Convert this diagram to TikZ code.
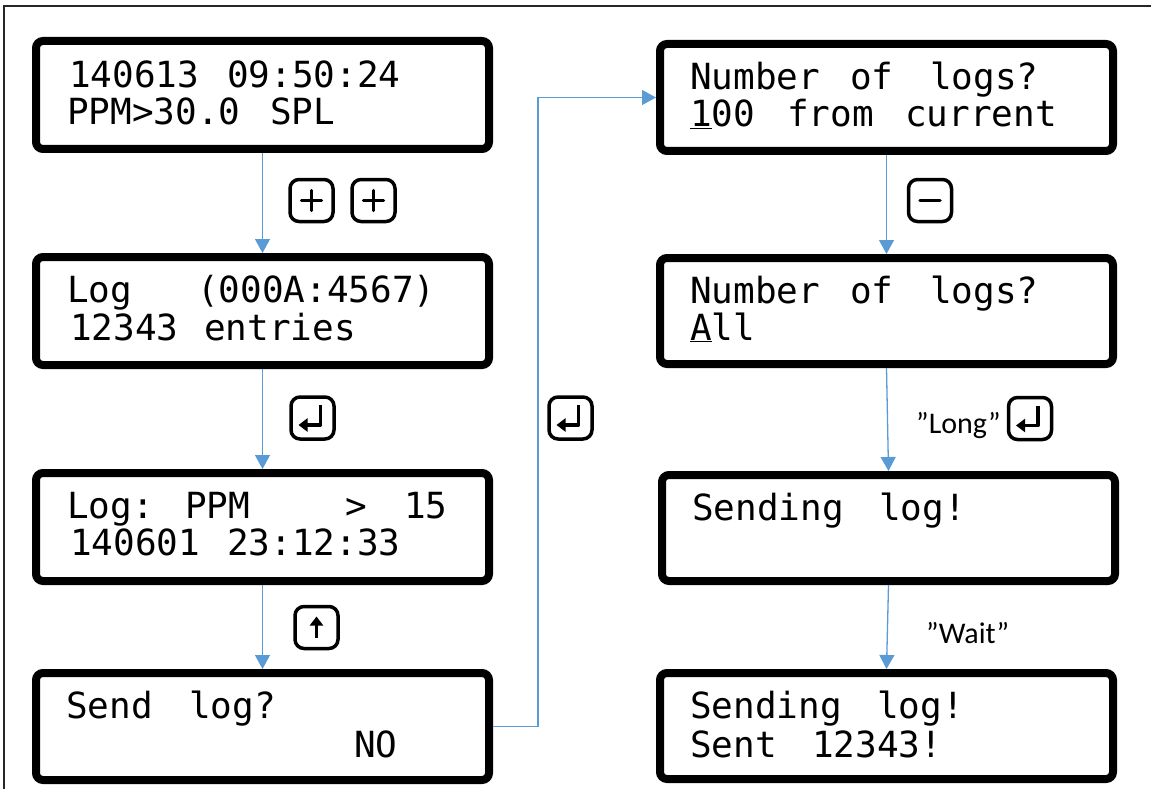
\documentclass[tikz,border=0pt]{standalone}
\usepackage{fontspec}
\setmonofont{DejaVu Sans Mono}
\newfontfamily\labelfont{Carlito}
\usetikzlibrary{arrows.meta}
\definecolor{conncol}{RGB}{91,155,213}
\begin{document}
\begin{tikzpicture}[x=1pt,y=-1pt,
  lcdbox/.style={draw=black, line width=8pt, rounded corners=7pt, fill=white, inner sep=0pt, minimum width=453pt},
  lcdtext/.style={anchor=base west, inner sep=0pt, font=\ttfamily\fontsize{36}{36}\selectfont},
  keybox/.style={draw=black, line width=3.5pt, rounded corners=9pt, minimum width=43pt, minimum height=42pt, inner sep=0pt},
  keysym/.style={line width=3.5pt, line cap=round},
  conn/.style={draw=conncol, line width=1.3pt, -{Triangle[width=15pt,length=14pt]}},
  lbl/.style={anchor=base west, inner sep=0pt, font=\labelfont\fontsize{30}{30}\selectfont},
  frame/.style={draw=black!85, line width=1.3pt}]
\useasboundingbox (0,0) rectangle (1151,789);
\draw[frame] (4,6) rectangle (1175,815);

% LCD boxes
\node[lcdbox, minimum height=108pt] (b1) at (262.5,95) {};
\node[lcdbox, minimum height=108pt] (b2) at (262.5,311) {};
\node[lcdbox, minimum height=108pt] (b3) at (262.5,527) {};
\node[lcdbox, minimum height=107pt] (b4) at (262.5,726.5) {};
\node[lcdbox, minimum height=107pt] (r1) at (886.5,97.5) {};
\node[lcdbox, minimum height=106pt] (r2) at (886.5,311) {};
\node[lcdbox, minimum height=106pt] (r3) at (888.5,528) {};
\node[lcdbox, minimum height=106pt] (r4) at (886.5,726) {};

% texts box 1
\node[lcdtext] (t1a) at (69,88) {140613};
\node[lcdtext] (t1b) at (227,88) {09:50:24};
\node[lcdtext] (t1c) at (67,125) {PPM>30.0};
\node[lcdtext] (t1d) at (270,125) {SPL};
% box 2
\node[lcdtext] (t2a) at (67,302) {Log};
\node[lcdtext] (t2b) at (197,302) {(000A:4567)};
\node[lcdtext] (t2c) at (70,340) {12343};
\node[lcdtext] (t2d) at (204,340) {entries};
% box 3
\node[lcdtext] (t3a) at (67,518) {Log:};
\node[lcdtext] (t3b) at (185,518) {PPM};
\node[lcdtext] (t3c) at (345,518) {>};
\node[lcdtext] (t3d) at (404,518) {15};
\node[lcdtext] (t3e) at (70,555) {140601};
\node[lcdtext] (t3f) at (227,555) {23:12:33};
% box 4
\node[lcdtext] (t4a) at (66,718) {Send};
\node[lcdtext] (t4b) at (189,718) {log?};
\node[lcdtext] (t4c) at (354,757) {NO};
% right 1
\node[lcdtext] (u1a) at (690,90) {Number};
\node[lcdtext] (u1b) at (850,90) {of};
\node[lcdtext] (u1c) at (930,90) {logs?};
\node[lcdtext] (u1d) at (690,127) {\underline{1}00};
\node[lcdtext] (u1e) at (787,127) {from};
\node[lcdtext] (u1f) at (905,127) {current};
% right 2
\node[lcdtext] (u2a) at (690,303) {Number};
\node[lcdtext] (u2b) at (850,303) {of};
\node[lcdtext] (u2c) at (930,303) {logs?};
\node[lcdtext] (u2d) at (690,340) {\underline{A}ll};
% right 3
\node[lcdtext] (u3a) at (692,520) {Sending};
\node[lcdtext] (u3b) at (879,520) {log!};
% right 4
\node[lcdtext] (u4a) at (690,718) {Sending};
\node[lcdtext] (u4b) at (877,718) {log!};
\node[lcdtext] (u4c) at (690,757) {Sent};
\node[lcdtext] (u4d) at (812,757) {12343!};

% connectors
\draw[conn] (b1) -- (b2);
\draw[conn] (b2) -- (b3);
\draw[conn] (b3) -- (b4);
\draw[conn] (b4.east) -- ++(45,0) |- (r1.west);
\draw[conn] (r1) -- (r2);
\draw[conn] (r2.south) -- (r3.north);
\draw[conn] (r3.south) -- (r4.north);

% keys
\node[keybox] (kp1) at (311.5,200.5) {};
\node[keybox] (kp2) at (373.5,200.5) {};
\node[keybox] (ke1) at (312.5,418) {};
\node[keybox] (ku) at (316.5,627.5) {};
\node[keybox] (ke2) at (570.5,418) {};
\node[keybox] (km) at (930,200.5) {};
\node[keybox] (ke3) at (1030,418.5) {};

\draw[keysym] (kp1) ++(-10,0) -- ++(20,0);
\draw[keysym] (kp1) ++(0,-10) -- ++(0,20);
\draw[keysym] (kp2) ++(-10,0) -- ++(20,0);
\draw[keysym] (kp2) ++(0,-10) -- ++(0,20);
\draw[keysym] (km) ++(-10,0) -- ++(20,0);
\foreach \k in {ke1,ke2,ke3}{
  \draw[line width=3.5pt, line join=round, -{Triangle[width=13pt,length=9pt]}] (\k) ++(8,-13) -- ++(0,20) -- ++(-22,0);
}
\draw[line width=3.5pt, -{Triangle[width=13pt,length=9pt]}] (ku) ++(0,10) -- ++(0,-21);

% labels
\node[lbl] (long) at (916,433) {”Long”};
\node[lbl] (wait) at (926,643) {”Wait”};
\end{tikzpicture}
\end{document}
